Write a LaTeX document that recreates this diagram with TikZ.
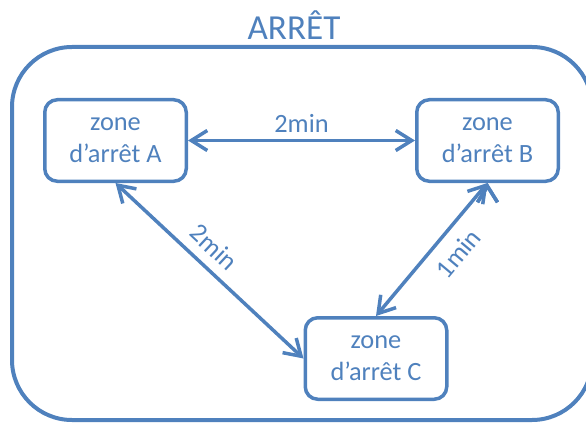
\documentclass[tikz,border=0pt]{standalone}
\usepackage{fontspec}
\setmainfont{Carlito}
\usetikzlibrary{arrows.meta}
\definecolor{zoneblue}{RGB}{79,129,189}

\begin{document}
\begin{tikzpicture}[node distance=7.44cm,
		zone/.style={draw=zoneblue, line width=0.07cm, rounded corners=0.25cm,
			minimum width=2.83cm, minimum height=1.63cm, align=center,
			text=zoneblue, font=\fontsize{15}{18.2}\selectfont},
		fleche/.style={draw=zoneblue, line width=0.07cm,
			{Straight Barb[length=0.32cm,width=0.4cm]}-{Straight Barb[length=0.32cm,width=0.4cm]},
			every node/.style={text=zoneblue, font=\fontsize{15}{18}\selectfont}}]
	\useasboundingbox (0,0) rectangle (11.72,-8.46);

	% cadre
	\draw[zoneblue, line width=0.08cm, rounded corners=1.2cm] (0.24,-0.94) rectangle (11.84,-8.40);
	\node[text=zoneblue, font=\fontsize{20}{24}\selectfont] (titre) at (5.88,-0.5) {ARRÊT};

	\node[zone] (A) at (2.31,-2.81) {zone\\d’arrêt A};
	\node[zone] (B)[right of = A] {zone\\d’arrêt B};
	\node[zone] (C)[below of = B, node distance=4.36cm, xshift=-2.23cm] {zone\\d’arrêt C};

	\path[fleche]
		(A.east) edge node[above] {2min} (B.west)
		(A.south) edge node[pos=0.45, sloped, above=0.08cm] {2min} (C.west)
		(B.south) edge node[pos=0.42, sloped, below=0.12cm] {1min} (C.north)
	;
\end{tikzpicture}
\end{document}
